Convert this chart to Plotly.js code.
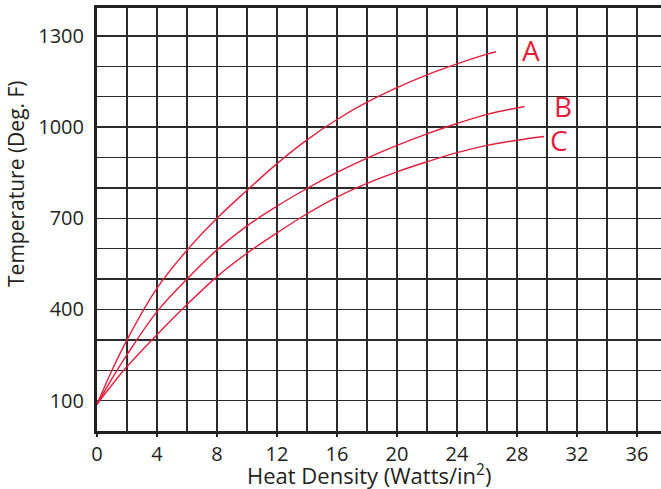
<!DOCTYPE html>
<html>
<head>
<meta charset="utf-8">
<script src="https://cdn.plot.ly/plotly-3.0.1.min.js"></script>
<style>html,body{margin:0;padding:0;background:#fff;}#chart{width:661px;height:489px;}</style>
</head>
<body>
<div id="chart"></div>
<script>
// Heat density (Watts/in²) vs temperature (Deg. F)
const seriesNames = ["A", "B", "C"];
const xA = [0, 1, 2, 4, 6, 8, 10, 12, 14, 16, 18, 20, 22, 24, 26, 26.6];
const yA = [88, 200, 300, 470, 595, 700, 792, 880, 958, 1025, 1082, 1130, 1172, 1208, 1240, 1248];
const xB = [0, 1, 2, 4, 6, 8, 10, 12, 14, 16, 18, 20, 22, 24, 26, 28.5];
const yB = [88, 172, 251, 393, 500, 596, 675, 740, 798, 851, 898, 940, 978, 1012, 1042, 1068];
const xC = [0, 1, 2, 4, 6, 8, 10, 12, 14, 16, 18, 20, 22, 24, 26, 28, 29.8];
const yC = [88, 152, 212, 317, 416, 508, 585, 652, 715, 770, 815, 853, 886, 916, 940, 957, 969];
const xTickStart = 0, xTickStep = 4, xGridStep = 2;
const yTickStart = 100, yTickStep = 300, yGridStep = 100;

const red = "#e41e3c";
const ink = "#231f20";
const gridInk = "#2b2b2b";
const fontFam = "Open Sans, Noto Sans, sans-serif";

const xs = [xA, xB, xC];
const ys = [yA, yB, yC];
const traces = xs.map((x, i) => ({
  x: x, y: ys[i], type: "scatter", mode: "lines", name: seriesNames[i],
  line: {color: red, width: 1.4, shape: "spline", smoothing: 1},
  hoverinfo: "skip"
}));

// label offsets (pixels) from the end of each curve
const labelShift = [[35, 2], [38, 0], [15, -3]];
const labelAnns = seriesNames.map((n, i) => ({
  x: xs[i][xs[i].length - 1], y: ys[i][ys[i].length - 1],
  xref: "x", yref: "y", text: n, showarrow: false,
  xanchor: "center", yanchor: "middle",
  xshift: labelShift[i][0], yshift: labelShift[i][1],
  font: {family: fontFam, size: 28, color: red}
}));

const layout = {
  width: 661, height: 489,
  margin: {l: 97, r: 0, t: 8, b: 58},
  paper_bgcolor: "#fff", plot_bgcolor: "#fff",
  showlegend: false,
  font: {family: fontFam, size: 20, color: ink},
  xaxis: {
    range: [0, 37.6], tick0: xTickStart, dtick: xTickStep, ticks: "outside", ticklen: 3, tickwidth: 1.5, tickcolor: ink,
    showgrid: true, gridcolor: gridInk, gridwidth: 1.4,
    minor: {dtick: xGridStep, tick0: xTickStart, showgrid: true, gridcolor: gridInk, gridwidth: 1.4, ticks: ""},
    zeroline: false, showline: true, linecolor: ink, linewidth: 3, mirror: true,
    tickfont: {family: fontFam, size: 20, color: ink}, fixedrange: true
  },
  yaxis: {
    range: [0, 1392], tick0: yTickStart, dtick: yTickStep, ticks: "", ticklabelstandoff: 6,
    showgrid: true, gridcolor: gridInk, gridwidth: 1.4,
    minor: {dtick: yGridStep, tick0: yTickStart, showgrid: true, gridcolor: gridInk, gridwidth: 1.4, ticks: ""},
    zeroline: false, showline: true, linecolor: ink, linewidth: 3, mirror: false,
    tickfont: {family: fontFam, size: 20, color: ink}, fixedrange: true
  },
  annotations: labelAnns.concat([
    {xref: "paper", yref: "paper", x: 0.482, y: -0.102, text: "Heat Density (Watts/in<sup>2</sup>)",
     showarrow: false, xanchor: "center", yanchor: "middle", font: {family: fontFam, size: 22, color: ink}},
    {xref: "paper", yref: "paper", x: -0.1436, y: 0.584, text: "Temperature (Deg. F)", textangle: -90,
     showarrow: false, xanchor: "center", yanchor: "middle", font: {family: fontFam, size: 21, color: ink}}
  ])
};

Plotly.newPlot("chart", traces, layout, {displayModeBar: false, staticPlot: true});
</script>
</body>
</html>
